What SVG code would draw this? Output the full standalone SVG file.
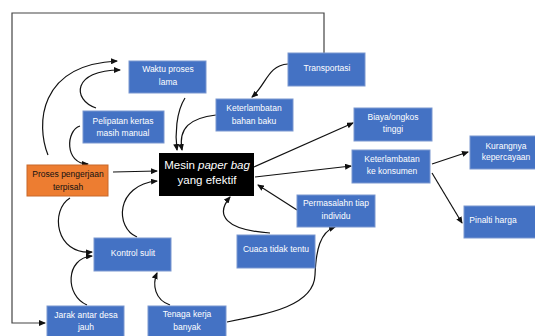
<svg xmlns="http://www.w3.org/2000/svg" width="535" height="336" viewBox="0 0 535 336">
<style>
.b rect{fill:#4472C4;stroke:#7a97d0;stroke-width:1}
.t{font-family:"Liberation Sans",Arial,sans-serif;font-size:8.5px;fill:#fff;text-anchor:middle}
.c path{fill:none;stroke:#111;stroke-width:1.2;marker-end:url(#ah)}
</style>
<defs>
<marker id="ah" markerUnits="userSpaceOnUse" markerWidth="7" markerHeight="6" refX="6" refY="3" orient="auto">
<path d="M0,0 L7,3 L0,6 Z" fill="#111"/>
</marker>
</defs>
<rect width="535" height="336" fill="#fff"/>
<g class="c" id="connectors">
<path d="M324,53 V13 H12 V323 H45" style="stroke:#444"/>
<path d="M48,155 C36,125 38,65 117,61"/>
<path d="M96,108 C72,100 72,70 120,70"/>
<path d="M80,126 C66,130 64,164 88,164"/>
<path d="M185,98 C176,112 175,135 177,150"/>
<path d="M216,115 C190,118 178,128 182,150"/>
<path d="M288,64 C268,65 266,85 252,97"/>
<path d="M113,172 L157,171"/>
<path d="M254,167 L353,123"/>
<path d="M255,177 L351,166"/>
<path d="M297,210 L258,185"/>
<path d="M270,233 C225,230 215,215 230,197"/>
<path d="M227,322 C270,314 314,305 315,275 C316,250 320,232 335,227"/>
<path d="M137,237 C115,228 115,185 157,181"/>
<path d="M70,198 C50,210 55,255 92,252"/>
<path d="M87,305 C65,296 65,258 92,256"/>
<path d="M170,305 C155,300 152,285 157,273"/>
<path d="M432,164 L468,152"/>
<path d="M432,173 L462,223"/>
</g>
<g id="waktu" class="b"><rect x="129" y="61" width="77" height="32"/><text class="t" x="168" y="72">Waktu proses</text><text class="t" x="168" y="85">lama</text></g>
<g id="pelipatan" class="b"><rect x="83" y="111" width="81" height="32"/><text class="t" x="123" y="124">Pelipatan kertas</text><text class="t" x="123" y="136">masih manual</text></g>
<g id="proses"><rect x="27" y="165" width="81" height="31" fill="#ED7D31" stroke="#c8692a"/><text class="t" x="68" y="177" style="fill:#111">Proses pengerjaan</text><text class="t" x="68" y="190" style="fill:#111">terpisah</text></g>
<g id="mesin"><rect x="159" y="153" width="95" height="43" fill="#000"/><text class="t" x="207" y="169" style="font-size:11.5px">Mesin <tspan font-style="italic">paper bag</tspan></text><text class="t" x="207" y="184" style="font-size:11.5px">yang efektif</text></g>
<g id="bahanbaku" class="b"><rect x="216" y="99" width="77" height="32"/><text class="t" x="254" y="111">Keterlambatan</text><text class="t" x="254" y="124">bahan baku</text></g>
<g id="transportasi" class="b"><rect x="288" y="53" width="77" height="33"/><text class="t" x="327" y="71">Transportasi</text></g>
<g id="biaya" class="b"><rect x="354" y="108" width="78" height="33"/><text class="t" x="393" y="120">Biaya/ongkos</text><text class="t" x="393" y="132">tinggi</text></g>
<g id="konsumen" class="b"><rect x="352" y="150" width="78" height="33"/><text class="t" x="392" y="162">Keterlambatan</text><text class="t" x="392" y="174">ke konsumen</text></g>
<g id="kurangnya" class="b"><rect x="470" y="136" width="70" height="33"/><text class="t" x="506" y="149">Kurangnya</text><text class="t" x="506" y="160">kepercayaan</text></g>
<g id="pinalti" class="b"><rect x="464" y="206" width="76" height="32"/><text class="t" x="493" y="223">Pinalti harga</text></g>
<g id="permasalahn" class="b"><rect x="297" y="195" width="78" height="32"/><text class="t" x="336" y="206">Permasalahn tiap</text><text class="t" x="336" y="219">individu</text></g>
<g id="cuaca" class="b"><rect x="237" y="235" width="78" height="33"/><text class="t" x="276" y="252">Cuaca tidak tentu</text></g>
<g id="kontrol" class="b"><rect x="94" y="238" width="77" height="33"/><text class="t" x="133" y="256">Kontrol sulit</text></g>
<g id="jarak" class="b"><rect x="47" y="306" width="77" height="33"/><text class="t" x="86" y="318">Jarak antar desa</text><text class="t" x="86" y="330">jauh</text></g>
<g id="tenaga" class="b"><rect x="148" y="306" width="78" height="33"/><text class="t" x="187" y="317">Tenaga kerja</text><text class="t" x="187" y="330">banyak</text></g>
</svg>
